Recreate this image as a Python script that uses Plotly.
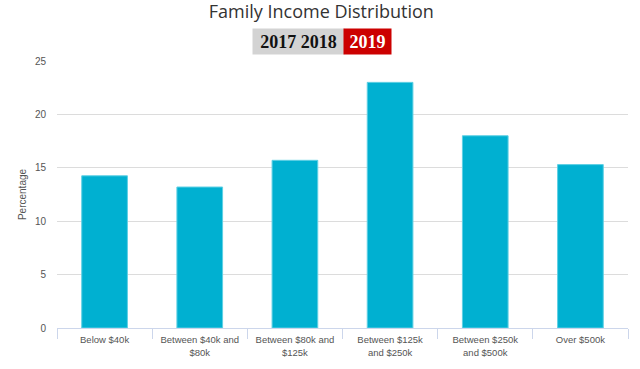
import plotly.graph_objects as go

categories = ["Below $40k", "Between $40k and<br>$80k", "Between $80k and<br>$125k",
              "Between $125k<br>and $250k", "Between $250k<br>and $500k", "Over $500k"]
values = [14.25, 13.2, 15.7, 23.0, 18.0, 15.3]
y_ticks = [0, 5, 10, 15, 20, 25]
title_text = "Family Income Distribution"
year_inactive = "2017 2018"
year_active = "2019"

fig = go.Figure(go.Bar(
    x=categories, y=values,
    marker=dict(color="#00b0d1", line=dict(color="#5fd0e4", width=1)),
    width=0.48,
))

fig.update_layout(
    width=640, height=369,
    margin=dict(l=57, r=12, t=61, b=41, autoexpand=False),
    paper_bgcolor="white", plot_bgcolor="white",
    showlegend=False,
    font=dict(family="Liberation Sans, Arial, sans-serif", color="#555"),
    title=dict(text=title_text, x=0.502, xref="container", y=1 - 12 / 369, yref="container",
               xanchor="center", yanchor="middle",
               font=dict(family="Open Sans, sans-serif", size=18, color="#333")),
    xaxis=dict(
        showline=True, linecolor="#ccd6eb", linewidth=1,
        ticks="outside", tickson="boundaries", tickcolor="#ccd6eb", ticklen=10,
        tickfont=dict(size=9.5, color="#555"),
        ticklabelstandoff=3,
        showgrid=False,
    ),
    yaxis=dict(
        range=[0, 25], tickvals=y_ticks,
        showgrid=True, gridcolor="#dcdcdc", gridwidth=1,
        zeroline=False, showline=False,
        tickfont=dict(size=10, color="#555"),
        ticklabelstandoff=10,
        title=dict(text="Percentage", font=dict(size=10, color="#555"), standoff=6),
    ),
    annotations=[
        dict(text="<b>" + year_inactive + "</b>", xref="paper", yref="paper",
             x=(298.5 - 57) / 571, y=(328 - 41.5) / 267, xanchor="center", yanchor="middle",
             width=91, height=25, borderpad=0, bgcolor="#d3d3d3", showarrow=False,
             font=dict(family="Liberation Serif, serif", size=18, color="#111")),
        dict(text="<b>" + year_active + "</b>", xref="paper", yref="paper",
             x=(367.5 - 57) / 571, y=(328 - 41.5) / 267, xanchor="center", yanchor="middle",
             width=47, height=25, borderpad=0, bgcolor="#cc0000", showarrow=False,
             font=dict(family="Liberation Serif, serif", size=18, color="white")),
    ],
)

fig.write_html("out.html", config={"displayModeBar": False},
               post_script="document.body.style.margin='0';")
